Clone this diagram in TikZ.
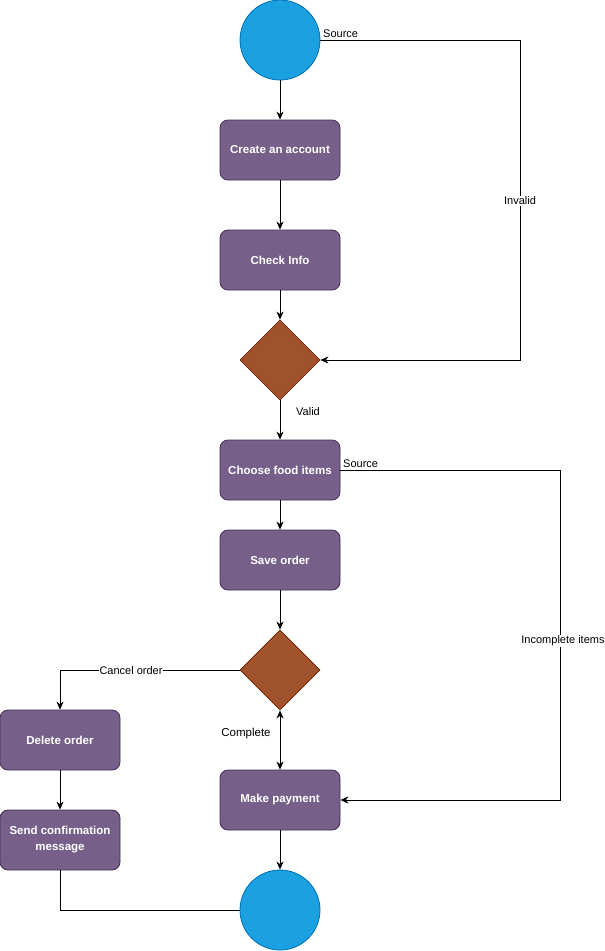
\documentclass[tikz,border=0pt]{standalone}
\usepackage{fontspec}
\setmainfont{Liberation Sans}
\usetikzlibrary{shapes.geometric,arrows.meta}
\definecolor{termfill}{HTML}{1BA1E2}
\definecolor{termline}{HTML}{006EAF}
\definecolor{boxfill}{HTML}{76608A}
\definecolor{boxline}{HTML}{432D57}
\definecolor{decfill}{HTML}{A0522D}
\definecolor{decline}{HTML}{6D1F00}
\tikzset{
  terminal/.style={circle, minimum size=80pt, inner sep=0pt, fill=termfill, draw=termline, line width=0.8pt},
  stepbox/.style={rectangle, rounded corners=8pt, minimum width=120pt, minimum height=60pt, inner sep=2pt,
    fill=boxfill, draw=boxline, line width=0.8pt, text=white, font=\bfseries\fontsize{11.5}{16}\selectfont, align=center},
  decision/.style={diamond, minimum width=80pt, minimum height=80pt, inner sep=0pt, aspect=1,
    fill=decfill, draw=decline, line width=0.8pt},
  flow/.style={line width=0.8pt, -{Stealth[length=8pt,width=7pt,inset=2.5pt]}},
  plain/.style={line width=0.8pt},
  lbl/.style={font=\fontsize{11}{13}\selectfont, text=black, inner sep=1pt},
  lblbg/.style={lbl, fill=white}
}
\begin{document}
\begin{tikzpicture}[x=1pt, y=-1pt]
\useasboundingbox (0,0) rectangle (605,951);

% nodes
\node[terminal] (start) at (280,40) {};
\node[stepbox] (create) at (280,150) {Create an account};
\node[stepbox] (check) at (280,260) {Check Info};
\node[decision] (valid) at (280,360) {};
\node[stepbox] (choose) at (280,470) {Choose food items};
\node[stepbox] (save) at (280,560) {Save order};
\node[decision] (status) at (280,670) {};
\node[stepbox] (delete) at (60,740) {Delete order};
\node[stepbox] (confirm) at (60,840) {Send confirmation\\message};
\node[stepbox] (pay) at (280,800) {Make payment};
\node[terminal] (finish) at (280,910) {};

% bend points of the routed connectors
\coordinate (invA) at (520,40);
\coordinate (invB) at (520,360);
\coordinate (incA) at (560,470);
\coordinate (incB) at (560,800);
\coordinate (canA) at (60,670);
\coordinate (endA) at (60,910);

% main line
\draw[flow] (start) -- (create);
\draw[flow] (create) -- (check);
\draw[flow] (check) -- (valid);
\draw[flow] (valid) -- (choose);
\draw[flow] (choose) -- (save);
\draw[flow] (save) -- (status);
\draw[line width=0.8pt, {Stealth[length=8pt,width=7pt,inset=2.5pt]}-{Stealth[length=8pt,width=7pt,inset=2.5pt]}] (status) -- (pay);
\draw[flow] (pay) -- (finish);

% invalid loop
\draw[flow] (start.east) -- (invA) -- (invB) -- (valid.east);
\node[lbl, anchor=south west] at (322,39) {Source};
\node[lblbg] at (520,201) {Invalid};

% valid label
\node[lbl] at (308,412) {Valid};

% incomplete items loop
\draw[flow] (choose.east) -- (incA) -- (incB) -- (pay.east);
\node[lbl, anchor=south west] at (342,469) {Source};
\node[lblbg] at (563,641) {Incomplete items};

% cancel branch
\draw[flow] (status.west) -- (canA) -- (delete.north);
\node[lblbg] at (131,671) {Cancel order};
\draw[flow] (delete) -- (confirm);
\draw[plain] (confirm.south) -- (endA) -- (finish.west);

% complete label
\node[lbl, font=\fontsize{11.5}{13}\selectfont] at (246,734) {Complete};
\end{tikzpicture}
\end{document}
